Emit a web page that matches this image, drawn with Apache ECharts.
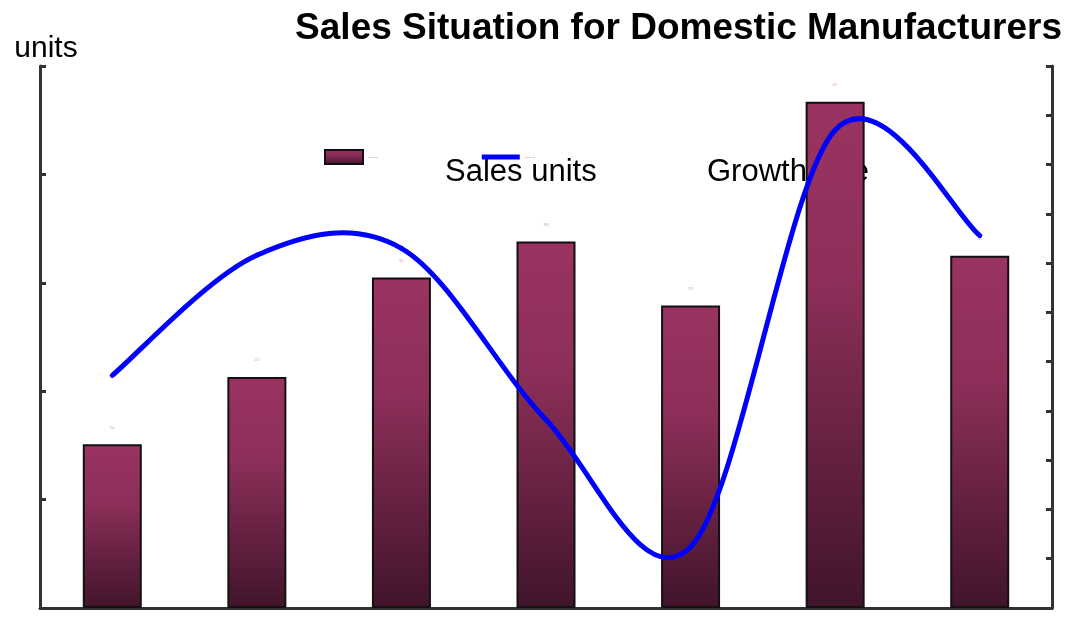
<!DOCTYPE html>
<html>
<head>
<meta charset="utf-8">
<title>Sales Situation for Domestic Manufacturers</title>
<script src="https://cdn.jsdelivr.net/npm/echarts@6/dist/echarts.min.js"></script>
<style>
  html, body { margin: 0; padding: 0; background: #fff; }
  #chart { width: 1065px; height: 633px; }
</style>
</head>
<body>
<div id="chart"></div>
<script>
// categories (labels not legible in the picture)
var categories = ['1', '2', '3', '4', '5', '6', '7'];
// sales units (left axis)
var salesUnits = [151, 213, 305, 338, 279, 467, 325];
// growth rate (right axis)
var growthRate = [23.6, 35.8, 36.5, 19.1, 6.2, 48.5, 37.8];

var axisColor = '#333333';
var font = 'Liberation Sans, Arial, sans-serif';

// the growth line is a cardinal spline: segment i -> i+1, control points from the neighbours
function renderSpline(params, api) {
  var i = params.dataIndex;
  var n = growthRate.length;
  if (i >= n - 1) return null;
  function pt(k) {
    k = Math.max(0, Math.min(n - 1, k));
    return api.coord([k, growthRate[k]]);
  }
  var p0 = pt(i - 1), p1 = pt(i), p2 = pt(i + 1), p3 = pt(i + 2);
  return {
    type: 'bezierCurve',
    shape: {
      x1: p1[0], y1: p1[1],
      cpx1: p1[0] + (p2[0] - p0[0]) / 6, cpy1: p1[1] + (p2[1] - p0[1]) / 6,
      cpx2: p2[0] - (p3[0] - p1[0]) / 6, cpy2: p2[1] - (p3[1] - p1[1]) / 6,
      x2: p2[0], y2: p2[1]
    },
    style: { stroke: '#0000ff', lineWidth: 5, fill: null, lineCap: 'round' }
  };
}

var myChart = echarts.init(document.getElementById('chart'));
myChart.setOption({
  animation: false,
  textStyle: { fontFamily: font },
  title: {
    text: 'Sales Situation for Domestic Manufacturers',
    right: -2,
    top: 5,
    textStyle: { fontSize: 37, fontWeight: 'bold', color: '#000' }
  },
  // legend icons with their (tiny) own labels
  legend: {
    left: 319,
    top: 144,
    itemWidth: 38,
    itemHeight: 14,
    itemGap: 104,
    textStyle: { fontSize: 2, color: '#999' },
    data: [
      { name: 'Sales units', icon: 'rect' },
      { name: 'Growth rate', icon: 'path://M0,0 L38,0 L38,5 L0,5 Z', itemStyle: { color: '#0000ff' } }
    ]
  },
  // big legend texts
  graphic: [
    { type: 'text', left: 445, top: 157, style: { text: 'Sales units', fontSize: 31, fill: '#000', fontFamily: font } },
    { type: 'text', left: 707, top: 157, style: { text: 'Growth rate', fontSize: 31, fill: '#000', fontFamily: font } }
  ],
  grid: { left: 40, right: 13, top: 66, bottom: 25 },
  xAxis: {
    type: 'category',
    data: categories,
    axisLine: { lineStyle: { color: axisColor, width: 3 } },
    axisTick: { inside: true, length: 7, lineStyle: { color: axisColor, width: 3 } },
    axisLabel: { show: false },
    splitLine: { show: false }
  },
  yAxis: [
    {
      type: 'value',
      name: 'units',
      nameGap: 2,
      nameTextStyle: { fontSize: 30, color: '#000', padding: [0, 0, 0, 12] },
      min: 0,
      max: 500,
      interval: 100,
      axisLine: { show: true, lineStyle: { color: axisColor, width: 3 } },
      axisTick: { show: true, inside: true, length: 6, lineStyle: { color: axisColor, width: 3 } },
      axisLabel: { show: false },
      splitLine: { show: false }
    },
    {
      type: 'value',
      min: 0,
      max: 55,
      interval: 5,
      axisLine: { show: true, lineStyle: { color: axisColor, width: 3 } },
      axisTick: { show: true, inside: true, length: 6, lineStyle: { color: axisColor, width: 3 } },
      axisLabel: { show: false },
      splitLine: { show: false }
    }
  ],
  series: [
    {
      name: 'Sales units',
      type: 'bar',
      yAxisIndex: 0,
      barWidth: 59,
      data: salesUnits,
      itemStyle: {
        color: new echarts.graphic.LinearGradient(0, 0, 0, 1, [
          { offset: 0, color: '#9a3362' },
          { offset: 0.35, color: '#8d2f5a' },
          { offset: 1, color: '#41142b' }
        ]),
        borderColor: '#111',
        borderWidth: 2
      },
      label: { show: true, position: 'top', distance: 15, fontSize: 3, color: '#d89ab4' }
    },
    {
      name: 'Growth rate',
      type: 'custom',
      yAxisIndex: 1,
      data: growthRate,
      encode: { x: -1, y: 0 },
      itemStyle: { color: '#0000ff' },
      renderItem: renderSpline,
      z: 3
    }
  ]
});
</script>
</body>
</html>
